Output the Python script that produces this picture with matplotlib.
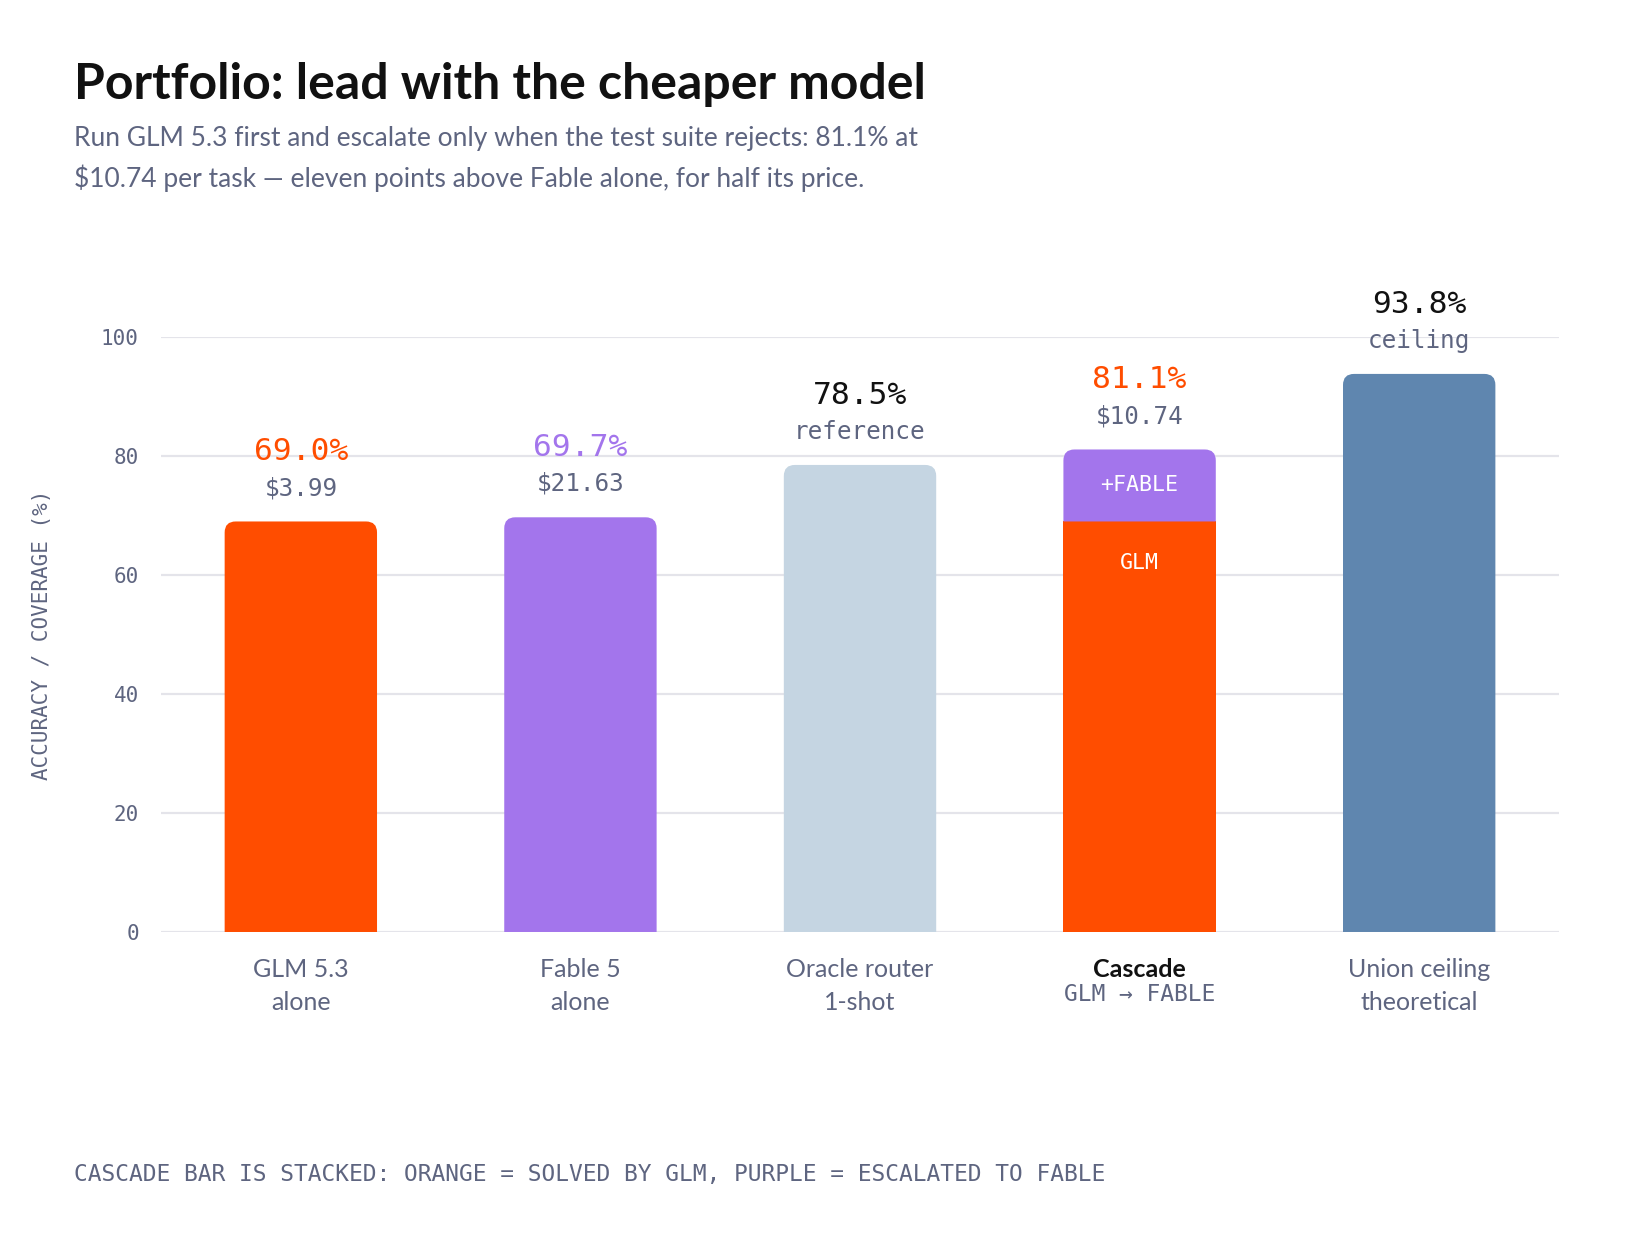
import matplotlib.pyplot as plt
from matplotlib.path import Path
from matplotlib.patches import PathPatch

# data
categories = ["GLM 5.3", "Fable 5", "Oracle router", "Cascade", "Union ceiling"]
subtitles = ["alone", "alone", "1-shot", "GLM \u2192 FABLE", "theoretical"]
accuracy = [69.0, 69.7, 78.5, 81.1, 93.8]
cascade_glm = 69.0
cascade_fable = 12.1
notes = ["$3.99", "$21.63", "reference", "$10.74", "ceiling"]

ORANGE = "#FF4D00"
PURPLE = "#A375EC"
PALE = "#C5D5E2"
STEEL = "#5F86AF"
GREY = "#5E6580"
INK = "#111111"
GRID = "#E4E4EA"

bar_colors = [ORANGE, PURPLE, PALE, ORANGE, STEEL]
value_colors = [ORANGE, PURPLE, INK, ORANGE, INK]

SANS = ["Lato", "DejaVu Sans"]
MONO = ["DejaVu Sans Mono"]

fig = plt.figure(figsize=(16.4, 12.4), dpi=100)
ax = fig.add_axes([0.0982, 0.2484, 0.8524, 0.4798])
ax.set_xlim(-0.5, 4.5)
ax.set_ylim(0, 100)


def round_top(ax, x0, bottom, width, height, color, r_px=11):
    # bar with rounded top corners, radius given in pixels
    (px0, py0) = ax.transData.transform((0, 0))
    (px1, py1) = ax.transData.transform((1, 1))
    rx = r_px / (px1 - px0)
    ry = r_px / (py1 - py0)
    x1 = x0 + width
    top = bottom + height
    verts = [(x0, bottom), (x1, bottom), (x1, top - ry), (x1, top), (x1 - rx, top),
             (x0 + rx, top), (x0, top), (x0, top - ry), (x0, bottom)]
    codes = [Path.MOVETO, Path.LINETO, Path.LINETO, Path.CURVE3, Path.CURVE3,
             Path.LINETO, Path.CURVE3, Path.CURVE3, Path.CLOSEPOLY]
    ax.add_patch(PathPatch(Path(verts, codes), facecolor=color, edgecolor="none", zorder=3))


xs = list(range(len(categories)))
plain = [0 if i == 3 else v for i, v in enumerate(accuracy)]
bars = ax.bar(xs, plain, width=0.545, color=bar_colors, zorder=3)
for i, b in enumerate(bars):
    b.set_visible(False)
    if i != 3:
        round_top(ax, b.get_x(), 0, b.get_width(), b.get_height(), bar_colors[i])

# stacked cascade bar
w = bars[3].get_width()
cx = bars[3].get_x()
ax.bar(3, cascade_glm, width=w, color=ORANGE, zorder=3)
round_top(ax, cx, cascade_glm, w, cascade_fable, PURPLE)
ax.text(3, cascade_glm + cascade_fable / 2, "+FABLE", ha="center", va="center",
        color="white", fontsize=15.5, family=MONO, zorder=4)
ax.annotate("GLM", (3, cascade_glm), xytext=(0, -30), textcoords="offset points",
            ha="center", va="center", color="white", fontsize=15.5, family=MONO, zorder=4)

# value labels above the bars
for i, v in enumerate(accuracy):
    ax.annotate(f"{v:.1f}%", (i, v), xytext=(0, 44), textcoords="offset points",
                ha="center", va="baseline", color=value_colors[i], fontsize=22.5,
                family=MONO, annotation_clip=False)
    ax.annotate(notes[i], (i, v), xytext=(0, 19), textcoords="offset points",
                ha="center", va="baseline", color=GREY, fontsize=17.5,
                family=MONO, annotation_clip=False)

# axes styling
ax.set_yticks(range(0, 101, 20))
ax.set_yticklabels([str(t) for t in range(0, 101, 20)], family=MONO, fontsize=15, color=GREY)
ax.tick_params(axis="y", length=0, pad=16)
ax.grid(axis="y", color=GRID, linewidth=1.6, zorder=0)
ax.set_axisbelow(True)
for s in ax.spines.values():
    s.set_visible(False)

ax.set_xticks(xs)
ax.set_xticklabels([c if i == 3 else f"{c}\n{subtitles[i]}" for i, c in enumerate(categories)],
                   family=SANS, fontsize=18, color=GREY, linespacing=1.5)
ax.tick_params(axis="x", length=0, pad=19)
casc = ax.get_xticklabels()[3]
casc.set_color(INK)
casc.set_fontweight("bold")
ax.annotate(subtitles[3], (3, 0), xytext=(0, -50), textcoords="offset points",
            ha="center", va="baseline", color=GREY, fontsize=16.5, family=MONO,
            annotation_clip=False)

fig.text(42 / 1640, 1 - 635 / 1240, "ACCURACY / COVERAGE (%)", rotation=90,
         ha="center", va="center", family=MONO, fontsize=15, color=GREY)

fig.text(74 / 1640, 1 - 99 / 1240, "Portfolio: lead with the cheaper model",
         family=SANS, fontsize=36, fontweight="bold", color=INK, va="baseline")
fig.text(74 / 1640, 1 - 126 / 1240,
         "Run GLM 5.3 first and escalate only when the test suite rejects: 81.1% at\n"
         "$10.74 per task \u2014 eleven points above Fable alone, for half its price.",
         family=SANS, fontsize=19, color=GREY, va="top", linespacing=1.6)

fig.text(74 / 1640, 1 - 1181 / 1240,
         "CASCADE BAR IS STACKED: ORANGE = SOLVED BY GLM, PURPLE = ESCALATED TO FABLE",
         family=MONO, fontsize=16.5, color=GREY, va="baseline")

fig.savefig("out.png", dpi=100, facecolor="white")
